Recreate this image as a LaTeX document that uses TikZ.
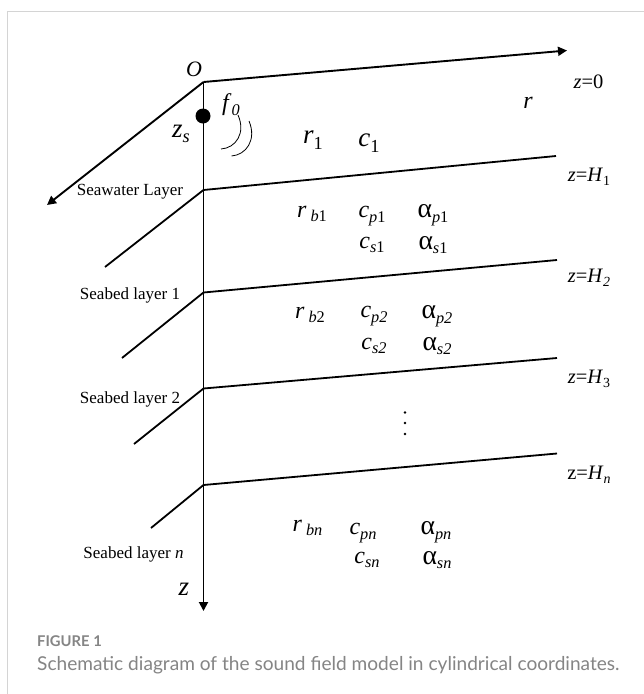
\documentclass[tikz,border=0pt]{standalone}
\usepackage{fontspec}
\setmainfont{Liberation Serif}
\newfontfamily\capfont{Lato}
\newcommand{\sm}[1]{\raisebox{-0.2em}{\scalebox{0.68}{#1}}}
\newcommand{\smi}[1]{\sm{\textit{#1}}}
\newcommand{\alf}{\scalebox{1.15}{α}}
\usetikzlibrary{arrows.meta}
\definecolor{capgray}{HTML}{858585}
\definecolor{framegray}{HTML}{D4D4D4}
\tikzset{
 axis/.style={line width=1.9pt,-{Triangle[length=9pt,width=9pt]}},
 ln/.style={line width=1.8pt},
 wave/.style={line width=0.8pt},
 sym/.style={inner sep=0pt,font=\fontsize{24}{26}\selectfont},
 big/.style={inner sep=0pt,font=\fontsize{27}{29}\selectfont},
 zlab/.style={inner sep=0pt,font=\fontsize{20.5}{22}\selectfont},
 lay/.style={inner sep=0pt,font=\fontsize{17}{18}\selectfont},
 capt/.style={inner sep=0pt,anchor=base west,text=capgray}
}
\begin{document}
\begin{tikzpicture}[x=1pt,y=-1pt]
\useasboundingbox (0,0) rectangle (644,694);
\fill[white] (0,0) rectangle (644,694);
\draw[framegray,line width=0.9pt] (7.5,694) -- (7.5,11.5) -- (644,11.5);
\coordinate (O) at (203.5,82);
\coordinate (A1) at (203.5,190);
\coordinate (A2) at (203.5,292.5);
\coordinate (A3) at (203.5,388.5);
\coordinate (A4) at (203.5,485);
\coordinate (Ztip) at (203.5,611);
\coordinate (Rtip) at (567,50.5);
\coordinate (Ltip) at (47,205);
\coordinate (B1) at (556,156);
\coordinate (B2) at (557,260);
\coordinate (B3) at (557,358);
\coordinate (B4) at (557,453.5);
\coordinate (D1) at (105,267);
\coordinate (D2) at (122,358);
\coordinate (D3) at (134,444);
\coordinate (D4) at (151,528);
\draw[axis] (O) -- (Ztip);
\draw[axis] (O) -- (Rtip);
\draw[axis] (O) -- (Ltip);
\foreach \a/\b in {A1/B1,A2/B2,A3/B3,A4/B4,A1/D1,A2/D2,A3/D3,A4/D4} \draw[ln] (\a) -- (\b);
\node[circle,fill=black,minimum size=15pt,inner sep=0pt] (src) at (203,116) {};
\coordinate (W1a) at (221,149);
\coordinate (W1b) at (238,115);
\coordinate (W2a) at (231.5,156);
\coordinate (W2b) at (249,121);
\draw[wave] (W1a) .. controls (236,148) and (246,133) .. (W1b);
\draw[wave] (W2a) .. controls (246,155) and (257,140) .. (W2b);
\node[sym,font=\fontsize{22}{24}\selectfont\itshape] (lO) at (194,69) {O};
\node[sym] (lf) at (231,105) {\textit{f}\sm{\textit{0}}};
\node[big] (lzs) at (181,134) {\textit{z}\smi{s}};
\node[big] (lr1) at (313,140) {\textit{r}\sm{1}};
\node[big] (lc1) at (369,143) {\textit{c}\sm{1}};
\node[sym] (lr) at (528,103) {\textit{r}};
\node[big] (lz) at (184,589) {\textit{z}};
\node[zlab] (z0) at (588.5,82) {\textit{z}=0};
\node[zlab] (z1) at (589,177) {\textit{z}=\textit{H}\sm{1}};
\node[zlab] (z2) at (589,278) {\textit{z}=\textit{H}\smi{2}};
\node[zlab] (z3) at (589,379) {\textit{z}=\textit{H}\sm{3}};
\node[zlab] (z4) at (589,475) {z=\textit{H}\smi{n}};
\node[lay] (s0) at (130,192) {Seawater Layer};
\node[lay] (s1) at (130,295) {Seabed layer 1};
\node[lay] (s2) at (130,399) {Seabed layer 2};
\node[lay] (s3) at (133.5,554) {Seabed layer \textit{n}};
\node[sym] (rb1) at (312,214) {\textit{r}\,\smi{b}\sm{1}};
\node[sym] (cp1) at (372,216) {\textit{c}\smi{p}\sm{1}};
\node[sym] (ap1) at (433,215) {\alf\smi{p}\sm{1}};
\node[sym] (cs1) at (372,245) {\textit{c}\smi{s}\sm{1}};
\node[sym] (as1) at (433,245) {\alf\smi{s}\sm{1}};
\node[sym] (rb2) at (310,315) {\textit{r}\,\smi{b}\sm{2}};
\node[sym] (cp2) at (374,316) {\textit{c}\smi{p}\smi{2}};
\node[sym] (ap2) at (437,316) {\alf\smi{p}\smi{2}};
\node[sym] (cs2) at (374,346) {\textit{c}\smi{s}\smi{2}};
\node[sym] (as2) at (437,346) {\alf\smi{s}\smi{2}};
\node[sym] (rbn) at (307.5,528) {\textit{r}\,\smi{bn}};
\node[sym] (cpn) at (363,533) {\textit{c}\smi{pn}};
\node[sym] (apn) at (436,532) {\alf\smi{pn}};
\node[sym] (csn) at (367,560) {\textit{c}\smi{sn}};
\node[sym] (asn) at (437,560) {\alf\smi{sn}};
\foreach \n/\y in {d1/412.5,d2/423,d3/434} \node[circle,fill=black,minimum size=2.8pt,inner sep=0pt] (\n) at (405,\y) {};
\node[capt,font=\capfont\fontsize{14.8}{16}\selectfont\bfseries] (figl) at (37,646) {FIGURE 1};
\node[capt,font=\capfont\fontsize{19.1}{22}\selectfont] (cap) at (37,670) {Schematic diagram of the sound field model in cylindrical coordinates.};
\end{tikzpicture}
\end{document}
